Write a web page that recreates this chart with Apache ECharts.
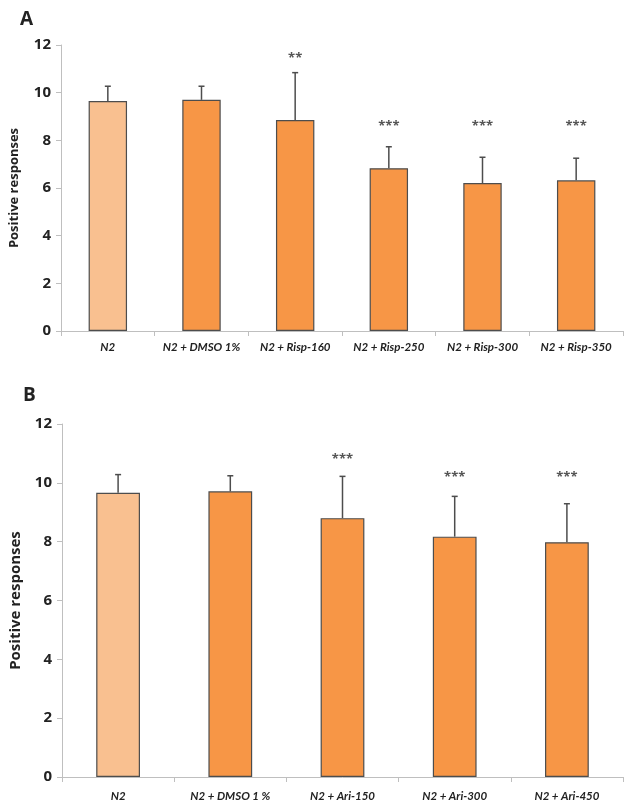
<!DOCTYPE html>
<html><head><meta charset="utf-8">
<script src="https://cdn.jsdelivr.net/npm/echarts@6/dist/echarts.min.js"></script>
<style>html,body{margin:0;padding:0;background:#fff}#c{width:634px;height:807px}</style>
</head><body><div id="c"></div>
<script>
// Panel A
const catsA = ["N2", "N2 + DMSO 1%", "N2 + Risp-160", "N2 + Risp-250", "N2 + Risp-300", "N2 + Risp-350"];
const meanA = [9.65, 9.7, 8.85, 6.83, 6.21, 6.32];
const errA  = [0.62, 0.57, 1.99, 0.9, 1.08, 0.93];
const starsA = ["", "", "**", "***", "***", "***"];
const starYA = [0, 0, 11.45, 8.6, 8.6, 8.6];
// Panel B
const catsB = ["N2", "N2 + DMSO 1 %", "N2 + Ari-150", "N2 + Ari-300", "N2 + Ari-450"];
const meanB = [9.66, 9.71, 8.8, 8.17, 7.98];
const errB  = [0.62, 0.53, 1.42, 1.37, 1.31];
const starsB = ["", "", "***", "***", "***"];
const starYB = [0, 0, 10.8, 10.2, 10.2];
const yTicks = [0, 2, 4, 6, 8, 10, 12];

const LIGHT = "#F9C090", ORANGE = "#F79646", EDGE = "#4d4d4d", AXIS = "#bfbfbf";
const FONT = "Open Sans";

const chart = echarts.init(document.getElementById('c'));

function barData(vals) {
  return vals.map((v, i) => ({ value: v, itemStyle: { color: i === 0 ? LIGHT : ORANGE } }));
}
function errSeries(means, errs, idx) {
  return {
    type: 'custom', xAxisIndex: idx, yAxisIndex: idx, z: 1,
    data: means.map((m, i) => [i, m, m + errs[i]]),
    renderItem: function (params, api) {
      const lo = api.coord([api.value(0), api.value(1)]);
      const hi = api.coord([api.value(0), api.value(2)]);
      return { type: 'group', children: [
        { type: 'line', shape: { x1: lo[0], y1: lo[1], x2: hi[0], y2: hi[1] }, style: { stroke: EDGE, lineWidth: 1.5 } },
        { type: 'line', shape: { x1: hi[0] - 3, y1: hi[1], x2: hi[0] + 3, y2: hi[1] }, style: { stroke: EDGE, lineWidth: 1.5 } }
      ]};
    }
  };
}
function starSeries(stars, ys, idx) {
  return {
    type: 'custom', xAxisIndex: idx, yAxisIndex: idx, z: 3,
    data: stars.map((s, i) => [i, ys[i]]),
    renderItem: function (params, api) {
      const s = stars[params.dataIndex];
      if (!s) return null;
      const p = api.coord([api.value(0), api.value(1)]);
      return { type: 'text', x: p[0], y: p[1], style: {
        text: s, fill: '#555', font: 'bold 13px "' + FONT + '"', align: 'center', verticalAlign: 'middle' } };
    }
  };
}
function xAxis(cats, idx, margin) {
  return {
    type: 'category', gridIndex: idx, data: cats,
    axisLine: { lineStyle: { color: AXIS, width: 1 } },
    axisTick: { show: true, length: 5, lineStyle: { color: AXIS } },
    axisLabel: { color: '#222', fontFamily: "Lato", fontWeight: 'bold', fontStyle: 'italic', fontSize: 11.5, margin: margin, interval: 0 }
  };
}
function yAxis(idx, nameSize, nameGap) {
  return {
    type: 'value', gridIndex: idx, min: yTicks[0], max: yTicks[yTicks.length - 1], interval: 2,
    name: 'Positive responses', nameLocation: 'middle', nameGap: nameGap,
    nameTextStyle: { color: '#222', fontFamily: FONT, fontWeight: 'bold', fontSize: nameSize },
    axisLine: { show: true, lineStyle: { color: AXIS } },
    axisTick: { show: true, length: 5, lineStyle: { color: AXIS } },
    splitLine: { show: false },
    axisLabel: { color: '#222', fontFamily: FONT, fontWeight: 'bold', fontSize: 15, margin: 10,
      formatter: v => String(v) }
  };
}

chart.setOption({
  animation: false,
  title: [
    { text: 'A', left: 15, top: 5, textStyle: { fontFamily: FONT, fontWeight: 'bold', fontSize: 19, color: '#222' } },
    { text: 'B', left: 18, top: 381, textStyle: { fontFamily: FONT, fontWeight: 'bold', fontSize: 19, color: '#222' } }
  ],
  grid: [
    { left: 61, right: 11, top: 45, height: 286 },
    { left: 61, right: 11, top: 424, height: 353 }
  ],
  xAxis: [xAxis(catsA, 0, 10), xAxis(catsB, 1, 13)],
  yAxis: [yAxis(0, 13, 40), yAxis(1, 15, 39)],
  series: [
    { type: 'bar', xAxisIndex: 0, yAxisIndex: 0, barWidth: '41%', z: 2, data: barData(meanA),
      itemStyle: { borderColor: EDGE, borderWidth: 1.2 } },
    errSeries(meanA, errA, 0),
    starSeries(starsA, starYA, 0),
    { type: 'bar', xAxisIndex: 1, yAxisIndex: 1, barWidth: '39%', z: 2, data: barData(meanB),
      itemStyle: { borderColor: EDGE, borderWidth: 1.2 } },
    errSeries(meanB, errB, 1),
    starSeries(starsB, starYB, 1)
  ]
});
</script></body></html>
